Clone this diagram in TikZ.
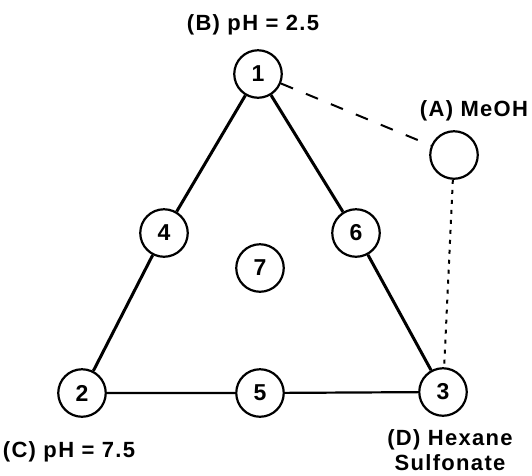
\documentclass[tikz,border=0pt]{standalone}
\usepackage{fontspec}
\setmainfont{Liberation Sans}
\begin{document}
\begin{tikzpicture}[x=1pt,y=-1pt,
  pt/.style={circle,draw,line width=2.2pt,minimum size=47.5pt,inner sep=0pt,font=\fontsize{23}{25}\selectfont\bfseries},
  lbl/.style={font=\fontsize{22}{25}\selectfont\bfseries\addfontfeature{LetterSpace=6},inner sep=0pt,align=center,anchor=base},
  side/.style={line width=3pt},
  base/.style={line width=2.2pt}]
\useasboundingbox (0,0) rectangle (532,475);
\node[pt] (n1) at (258,74) {1};
\node[pt] (n2) at (82,393) {2};
\node[pt] (n5) at (260,393) {5};
\node[pt] (n3) at (443,392) {3};
\node[pt] (n4) at (164,233) {4};
\node[pt] (n6) at (356,233) {6};
\node[pt] (n7) at (260,268) {7};
\node[pt] (nA) at (454,155) {};
\draw[side] (n1) -- (n4) -- (n2);
\draw[side] (n1) -- (n6) -- (n3);
\draw[base] (n2) -- (n5) -- (n3);
\draw[line width=2pt,dash pattern=on 13pt off 14pt] (n1) -- (nA);
\draw[line width=2pt,dash pattern=on 4pt off 6pt] (nA) -- (n3);
\node[lbl] (lB) at (253,30) {(B) pH = 2.5};
\node[lbl] (lA) at (474,116) {(A) MeOH};
\node[lbl] (lC) at (69,457) {(C) pH = 7.5};
\node[lbl] (lD) at (450,470) {(D) Hexane\\Sulfonate};
\end{tikzpicture}
\end{document}
